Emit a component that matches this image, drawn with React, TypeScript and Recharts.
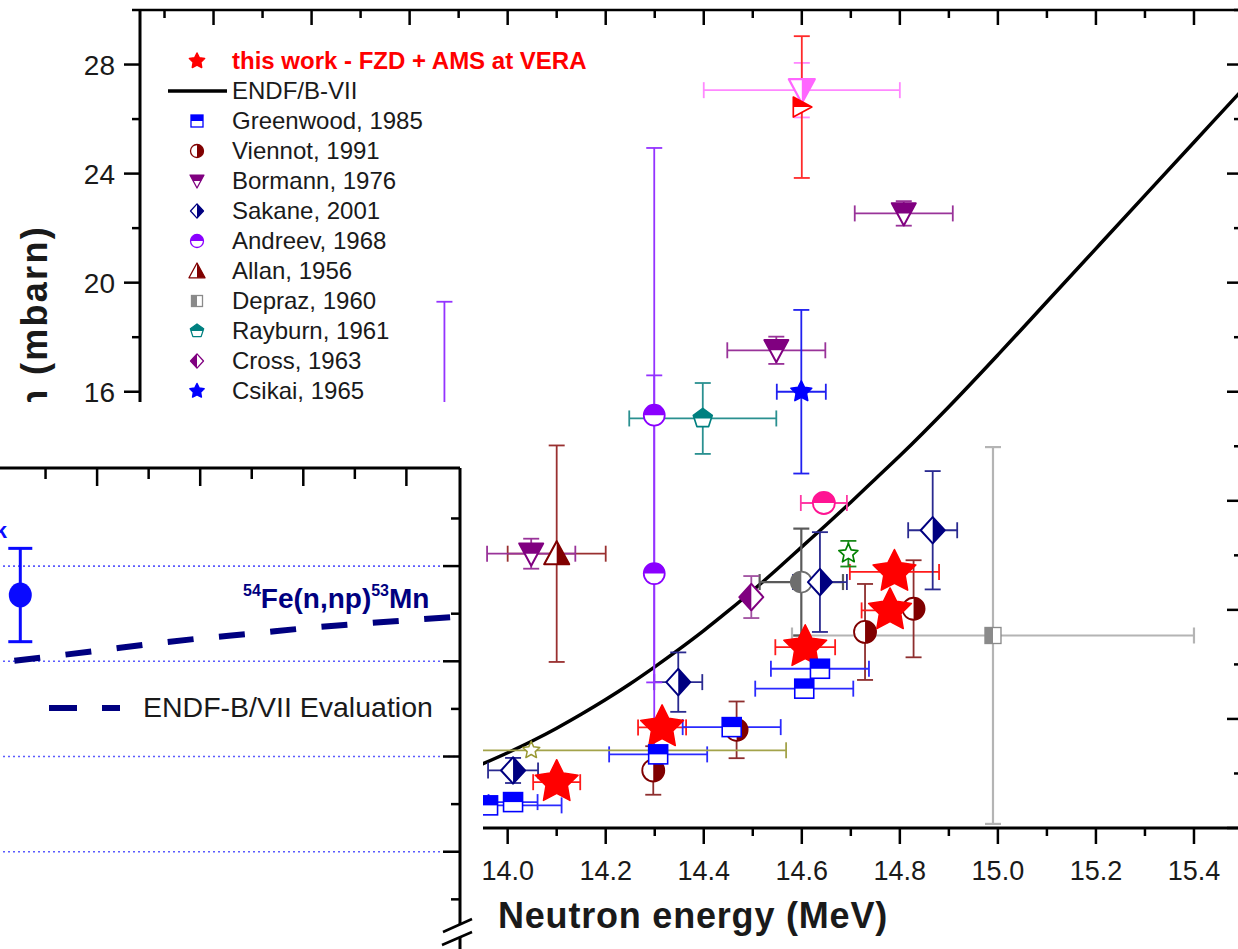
import React from 'react';
import { ComposedChart, Scatter, Line, XAxis, YAxis, ErrorBar, Legend, ReferenceLine } from 'recharts';

const FONT = '"Liberation Sans", Arial, Helvetica, sans-serif';
const INK = '#1a1a1a';

// ---------- main chart axes ----------
const xTicks = [13.3, 13.4, 13.5, 13.6, 13.7, 13.8, 13.9, 14.0, 14.1, 14.2, 14.3, 14.4, 14.5, 14.6, 14.7, 14.8, 14.9, 15.0, 15.1, 15.2, 15.3, 15.4, 15.5];
const yTicks = [0, 2, 4, 6, 8, 10, 12, 14, 16, 18, 20, 22, 24, 26, 28, 30];
const xDomain = [13.25, 15.5];
const yDomain = [0, 30];

// ---------- main chart data ----------
const endfE = [13.9, 13.95, 14.0, 14.05, 14.1, 14.15, 14.2, 14.25, 14.3, 14.35, 14.4, 14.45, 14.5, 14.55, 14.6, 14.65, 14.7, 14.75, 14.8, 14.9, 15.0, 15.1, 15.2, 15.3, 15.4, 15.5];
const endfSigma = [1.98, 2.36, 2.76, 3.19, 3.66, 4.17, 4.71, 5.29, 5.91, 6.56, 7.24, 7.96, 8.71, 9.5, 10.31, 11.12, 11.95, 12.8, 13.65, 15.45, 17.35, 19.3, 21.25, 23.2, 25.15, 27.1];

const thisWorkE = [14.1, 14.315, 14.607, 14.78, 14.789];
const thisWorkS = [1.68, 3.69, 6.63, 7.98, 9.39];
const thisWorkDE = [0.048, 0.049, 0.061, 0.058, 0.091];

const greenwoodE = [13.96, 14.011, 14.307, 14.457, 14.605, 14.637];
const greenwoodS = [0.83, 0.95, 2.7, 3.7, 5.11, 5.84];
const greenwoodDE = [0.15, 0.05, 0.1, 0.1, 0.1, 0.1];

const viennotE = [14.297, 14.467, 14.729, 14.828];
const viennotS = [2.11, 3.6, 7.19, 8.04];
const viennotDS = [0.89, 1.04, 1.76, 1.78];

const bormannE = [14.048, 14.548, 14.808];
const bormannS = [10.06, 17.52, 22.54];
const bormannDE = [0.09, 0.1, 0.1];
const bormannDS = [0.55, 0.5, 0.45];

const sakaneE = [14.011, 14.348, 14.637, 14.867];
const sakaneS = [2.11, 5.35, 9.02, 10.92];
const sakaneDE = [0.051, 0.049, 0.055, 0.05];
const sakaneDS = [0.46, 1.09, 1.83, 2.17];

const andreevE = [13.871, 14.299, 14.299];
const andreevS = [12.0, 15.14, 9.33];
const andreevDS = [7.3, 9.8, 7.27];

const allanE = [14.1];
const allanS = [10.06];
const allanDE = [0.1];
const allanDS = [3.97];

const deprazE = [14.99];
const deprazS = [7.06];
const deprazDE = [0.41];
const deprazDS = [6.91];

const rayburnE = [14.398];
const rayburnS = [15.02];
const rayburnDE = [0.15];
const rayburnDS = [1.3];

const crossE = [14.497];
const crossS = [8.47];
const crossDS = [0.77];

const csikaiE = [14.599];
const csikaiS = [16.0];
const csikaiDE = [0.05];
const csikaiDS = [3.0];

const pinkTriE = [14.6];
const pinkTriS = [27.06];
const pinkTriDE = [0.2];
const pinkTriDS = [1.0];

const redTriE = [14.6];
const redTriS = [26.44];
const redTriDS = [2.6];

const pinkCircE = [14.645];
const pinkCircS = [11.92];
const pinkCircDE = [0.047];

const grayCircE = [14.599];
const grayCircS = [9.02];
const grayCircDE = [0.085];
const grayCircDS = [1.96];

const greenStarE = [14.695];
const greenStarS = [10.06];
const greenStarDS = [0.47];

const oliveStarE = [14.048];
const oliveStarS = [2.85];
const oliveStarDE = [0.52];

// ---------- inset data ----------
const insetXTicks = [12.5, 13, 13.5, 14, 14.5, 15, 15.5, 16];
const insetYTicks = [35, 40, 45, 50, 55, 60, 65, 70, 75];
const insetGrid = [40, 50, 60, 70];
const insetEvalE = [12.0, 12.5, 13.0, 13.5, 14.0, 14.5, 15.0, 15.5, 16.0, 16.52];
const insetEvalS = [59.8, 60.45, 61.1, 61.8, 62.4, 62.9, 63.45, 63.9, 64.3, 64.7];
const insetWorkE = [12.255];
const insetWorkS = [66.96];
const insetWorkDS = [4.9];

type Pt = { x: number; y: number; ex?: number; ey?: number };
const pts = (E: number[], S: number[], dE?: number[], dS?: number[]): Pt[] =>
  E.map((x, i) => ({ x, y: S[i], ex: dE ? dE[i] : undefined, ey: dS ? dS[i] : undefined }));

const endf = pts(endfE, endfSigma);
const insetEval = pts(insetEvalE, insetEvalS);
const insetWork = pts(insetWorkE, insetWorkS, undefined, insetWorkDS);

// ---------- markers ----------
const starPoints = (cx: number, cy: number, ro: number, ri: number) => {
  const p: string[] = [];
  for (let i = 0; i < 10; i++) {
    const r = i % 2 === 0 ? ro : ri;
    const a = -Math.PI / 2 + (i * Math.PI) / 5;
    p.push(`${cx + r * Math.cos(a)},${cy + r * Math.sin(a)}`);
  }
  return p.join(' ');
};
const poly = (arr: number[][]) => arr.map((q) => `${q[0]},${q[1]}`).join(' ');

function Marker({ kind, cx, cy, c, s }: { kind: string; cx: number; cy: number; c: string; s: number }) {
  if (cx == null || cy == null || isNaN(cx) || isNaN(cy)) return <g />;
  const sw = Math.max(1.3, s / 6);
  const W = '#fff';
  switch (kind) {
    case 'star':
      return <polygon points={starPoints(cx, cy, s, s * 0.5)} fill={c} stroke={c} strokeWidth={1.5} strokeLinejoin="round" />;
    case 'starOpen':
      return <polygon points={starPoints(cx, cy, s, s * 0.47)} fill={W} stroke={c} strokeWidth={sw} strokeLinejoin="round" />;
    case 'sqTop':
      return (
        <g>
          <rect x={cx - s} y={cy - s} width={2 * s} height={2 * s} fill={W} stroke={c} strokeWidth={sw} />
          <rect x={cx - s} y={cy - s} width={2 * s} height={s} fill={c} />
        </g>
      );
    case 'sqLeft':
      return (
        <g>
          <rect x={cx - s} y={cy - s} width={2 * s} height={2 * s} fill={W} stroke={c} strokeWidth={sw} />
          <rect x={cx - s} y={cy - s} width={s} height={2 * s} fill={c} />
        </g>
      );
    case 'circRight':
      return (
        <g>
          <circle cx={cx} cy={cy} r={s} fill={W} stroke={c} strokeWidth={sw} />
          <path d={`M${cx},${cy - s} A${s},${s} 0 0 1 ${cx},${cy + s} Z`} fill={c} />
        </g>
      );
    case 'circLeft':
      return (
        <g>
          <circle cx={cx} cy={cy} r={s} fill={W} stroke={c} strokeWidth={sw} />
          <path d={`M${cx},${cy - s} A${s},${s} 0 0 0 ${cx},${cy + s} Z`} fill={c} />
        </g>
      );
    case 'circTop':
      return (
        <g>
          <circle cx={cx} cy={cy} r={s} fill={W} stroke={c} strokeWidth={sw} />
          <path d={`M${cx - s},${cy} A${s},${s} 0 0 1 ${cx + s},${cy} Z`} fill={c} />
        </g>
      );
    case 'circFull':
      return <ellipse cx={cx} cy={cy} rx={s} ry={s * 1.08} fill={c} />;
    case 'triDownTop':
      return (
        <g>
          <polygon points={poly([[cx - s, cy - 0.85 * s], [cx + s, cy - 0.85 * s], [cx, cy + s]])} fill={W} stroke={c} strokeWidth={sw} strokeLinejoin="round" />
          <polygon points={poly([[cx - s, cy - 0.85 * s], [cx + s, cy - 0.85 * s], [cx + 0.54 * s, cy], [cx - 0.54 * s, cy]])} fill={c} />
        </g>
      );
    case 'triDownRight':
      return (
        <g>
          <polygon points={poly([[cx - s, cy - 0.85 * s], [cx + s, cy - 0.85 * s], [cx, cy + s]])} fill={W} stroke={c} strokeWidth={sw} strokeLinejoin="round" />
          <polygon points={poly([[cx, cy - 0.85 * s], [cx + s, cy - 0.85 * s], [cx, cy + s]])} fill={c} />
        </g>
      );
    case 'triUpRight':
      return (
        <g>
          <polygon points={poly([[cx, cy - s], [cx + s, cy + 0.85 * s], [cx - s, cy + 0.85 * s]])} fill={W} stroke={c} strokeWidth={sw} strokeLinejoin="round" />
          <polygon points={poly([[cx, cy - s], [cx + s, cy + 0.85 * s], [cx, cy + 0.85 * s]])} fill={c} />
        </g>
      );
    case 'triRightTop':
      return (
        <g>
          <polygon points={poly([[cx - 0.85 * s, cy - s], [cx + s, cy], [cx - 0.85 * s, cy + s]])} fill={W} stroke={c} strokeWidth={sw} strokeLinejoin="round" />
          <polygon points={poly([[cx - 0.85 * s, cy - s], [cx + s, cy], [cx - 0.85 * s, cy]])} fill={c} />
        </g>
      );
    case 'diaRight':
      return (
        <g>
          <polygon points={poly([[cx, cy - 1.1 * s], [cx + s, cy], [cx, cy + 1.1 * s], [cx - s, cy]])} fill={W} stroke={c} strokeWidth={sw} strokeLinejoin="round" />
          <polygon points={poly([[cx, cy - 1.1 * s], [cx + s, cy], [cx, cy + 1.1 * s]])} fill={c} />
        </g>
      );
    case 'diaLeft':
      return (
        <g>
          <polygon points={poly([[cx, cy - 1.1 * s], [cx + s, cy], [cx, cy + 1.1 * s], [cx - s, cy]])} fill={W} stroke={c} strokeWidth={sw} strokeLinejoin="round" />
          <polygon points={poly([[cx, cy - 1.1 * s], [cx - s, cy], [cx, cy + 1.1 * s]])} fill={c} />
        </g>
      );
    case 'pentTop':
      return (
        <g>
          <polygon
            points={poly([[cx, cy - s], [cx + 0.951 * s, cy - 0.309 * s], [cx + 0.588 * s, cy + 0.809 * s], [cx - 0.588 * s, cy + 0.809 * s], [cx - 0.951 * s, cy - 0.309 * s]])}
            fill={W}
            stroke={c}
            strokeWidth={sw}
            strokeLinejoin="round"
          />
          <polygon points={poly([[cx, cy - s], [cx + 0.951 * s, cy - 0.309 * s], [cx + 0.85 * s, cy], [cx - 0.85 * s, cy], [cx - 0.951 * s, cy - 0.309 * s]])} fill={c} />
        </g>
      );
    default:
      return <circle cx={cx} cy={cy} r={s} fill={c} />;
  }
}

type Series = {
  key: string;
  name: string;
  data: Pt[];
  color: string;
  bar: string;
  kind: string;
  size: number;
  legendSize: number;
  ex: boolean;
  ey: boolean;
  bw?: number;
};

const THIS_WORK = 'this work - FZD + AMS at VERA';
const ENDF_NAME = 'ENDF/B-VII';

const series: Series[] = [
  { key: 'depraz', name: 'Depraz, 1960', data: pts(deprazE, deprazS, deprazDE, deprazDS), color: '#8a8a8a', bar: '#b4b4b4', kind: 'sqLeft', size: 8, legendSize: 5.5, ex: true, ey: true, bw: 2.2 },
  { key: 'grayc', name: 'gray', data: pts(grayCircE, grayCircS, grayCircDE, grayCircDS), color: '#6e6e6e', bar: '#5a5a5a', kind: 'circLeft', size: 10.5, legendSize: 6, ex: true, ey: true, bw: 2.2 },
  { key: 'viennot', name: 'Viennot, 1991', data: pts(viennotE, viennotS, undefined, viennotDS), color: '#800000', bar: '#8e2e2e', kind: 'circRight', size: 11, legendSize: 6.5, ex: false, ey: true },
  { key: 'thiswork', name: THIS_WORK, data: pts(thisWorkE, thisWorkS, thisWorkDE), color: '#ff0000', bar: '#ff1a1a', kind: 'star', size: 22.5, legendSize: 8, ex: true, ey: false },
  { key: 'greenwood', name: 'Greenwood, 1985', data: pts(greenwoodE, greenwoodS, greenwoodDE), color: '#0000ff', bar: '#2a2aff', kind: 'sqTop', size: 9.5, legendSize: 6, ex: true, ey: false },
  { key: 'sakane', name: 'Sakane, 2001', data: pts(sakaneE, sakaneS, sakaneDE, sakaneDS), color: '#000080', bar: '#2a2a90', kind: 'diaRight', size: 12, legendSize: 6.5, ex: true, ey: true },
  { key: 'andreev', name: 'Andreev, 1968', data: pts(andreevE, andreevS, undefined, andreevDS), color: '#8a00ff', bar: '#9433ff', kind: 'circTop', size: 10.5, legendSize: 6.5, ex: false, ey: true },
  { key: 'allan', name: 'Allan, 1956', data: pts(allanE, allanS, allanDE, allanDS), color: '#800000', bar: '#993030', kind: 'triUpRight', size: 12.5, legendSize: 8, ex: true, ey: true },
  { key: 'bormann', name: 'Bormann, 1976', data: pts(bormannE, bormannS, bormannDE, bormannDS), color: '#800080', bar: '#993399', kind: 'triDownTop', size: 12, legendSize: 7, ex: true, ey: true },
  { key: 'rayburn', name: 'Rayburn, 1961', data: pts(rayburnE, rayburnS, rayburnDE, rayburnDS), color: '#008080', bar: '#2a9090', kind: 'pentTop', size: 10, legendSize: 7, ex: true, ey: true },
  { key: 'cross', name: 'Cross, 1963', data: pts(crossE, crossS, undefined, crossDS), color: '#800080', bar: '#a050a0', kind: 'diaLeft', size: 12, legendSize: 6.5, ex: false, ey: true },
  { key: 'csikai', name: 'Csikai, 1965', data: pts(csikaiE, csikaiS, csikaiDE, csikaiDS), color: '#0000ff', bar: '#2020f0', kind: 'star', size: 11, legendSize: 7.5, ex: true, ey: true },
  { key: 'pinktri', name: 'pink', data: pts(pinkTriE, pinkTriS, pinkTriDE, pinkTriDS), color: '#ff66ff', bar: '#ff88ff', kind: 'triDownRight', size: 13, legendSize: 7, ex: true, ey: true },
  { key: 'redtri', name: 'redtri', data: pts(redTriE, redTriS, undefined, redTriDS), color: '#ff0000', bar: '#ff2a2a', kind: 'triRightTop', size: 10, legendSize: 7, ex: false, ey: true },
  { key: 'pinkc', name: 'pinkc', data: pts(pinkCircE, pinkCircS, pinkCircDE), color: '#ff1493', bar: '#ff3aa5', kind: 'circTop', size: 11, legendSize: 6.5, ex: true, ey: false },
  { key: 'greens', name: 'greens', data: pts(greenStarE, greenStarS, undefined, greenStarDS), color: '#008000', bar: '#1a8a1a', kind: 'starOpen', size: 10, legendSize: 7, ex: false, ey: true },
  { key: 'olives', name: 'olives', data: pts(oliveStarE, oliveStarS, oliveStarDE), color: '#999933', bar: '#a3a34a', kind: 'starOpen', size: 9, legendSize: 7, ex: true, ey: false },
];

const legendOrder = [THIS_WORK, ENDF_NAME, 'Greenwood, 1985', 'Viennot, 1991', 'Bormann, 1976', 'Sakane, 2001', 'Andreev, 1968', 'Allan, 1956', 'Depraz, 1960', 'Rayburn, 1961', 'Cross, 1963', 'Csikai, 1965'];
const byName: Record<string, Series> = {};
series.forEach((s) => (byName[s.name] = s));

// ---------- axis helpers ----------
const isMult = (v: number, step: number) => Math.abs(v / step - Math.round(v / step)) < 1e-6;

const BottomTick = (p: any) => {
  const { x, y, payload } = p;
  const v = payload.value;
  const major = isMult(v, 0.2);
  return (
    <g>
      <line x1={x} x2={x} y1={y} y2={y + (major ? 16 : 8)} stroke="#000" strokeWidth={2.5} />
      {major && (
        <text x={x} y={y + 51.5} textAnchor="middle" fontSize={27} fontFamily={FONT} fill={INK}>
          {v.toFixed(1)}
        </text>
      )}
    </g>
  );
};
const TopTick = (p: any) => {
  const { x, y, payload } = p;
  const major = isMult(payload.value, 0.2);
  return <line x1={x} x2={x} y1={y} y2={y + (major ? 15 : 8)} stroke="#000" strokeWidth={2.5} />;
};
const LeftTick = (p: any) => {
  const { x, y, payload } = p;
  const v = payload.value;
  const major = isMult(v, 4);
  return (
    <g>
      <line x1={x - (major ? 16 : 8)} x2={x} y1={y} y2={y} stroke="#000" strokeWidth={2.5} />
      {major && (
        <text x={x - 25} y={y} dy={10} textAnchor="end" fontSize={28} fontFamily={FONT} fill={INK}>
          {v}
        </text>
      )}
    </g>
  );
};
const RightTick = (p: any) => {
  const { x, y, payload } = p;
  const major = isMult(payload.value, 4);
  return <line x1={x - (major ? 16 : 9)} x2={x} y1={y} y2={y} stroke="#000" strokeWidth={2.5} />;
};

const XLabel = (p: any) => {
  const vb = p.viewBox || { x: 140, y: 828, width: 1103, height: 121 };
  return (
    <text x={vb.x + vb.width / 2 + 1.5} y={vb.y + 100} textAnchor="middle" fontSize={36} fontWeight="bold" letterSpacing={0.8} fontFamily={FONT} fill={INK}>
      Neutron energy (MeV)
    </text>
  );
};
const YLabel = (p: any) => {
  const vb = p.viewBox || { x: 0, y: 10, width: 140, height: 818 };
  const tx = vb.x + 47;
  const ty = vb.y + 215;
  return (
    <text x={tx} y={ty} transform={`rotate(-90, ${tx}, ${ty})`} textAnchor="end" fontSize={36} fontWeight="bold" letterSpacing={2.3} fontFamily={FONT} fill={INK}>
      Cross section (mbarn)
    </text>
  );
};

const MainLegend = () => (
  <div style={{ fontFamily: FONT, color: INK }}>
    {legendOrder.map((name) => {
      const s = byName[name];
      const bold = name === THIS_WORK;
      return (
        <div key={name} style={{ display: 'flex', alignItems: 'center', height: 30 }}>
          <svg width={70} height={30} style={{ display: 'block', flex: 'none' }}>
            {name === ENDF_NAME ? (
              <line x1={6} x2={65} y1={15} y2={15} stroke="#000" strokeWidth={3.5} />
            ) : (
              <Marker kind={s.kind} cx={35} cy={15} c={s.color} s={s.legendSize} />
            )}
          </svg>
          <span style={{ fontSize: 24, lineHeight: '30px', whiteSpace: 'nowrap', fontWeight: bold ? 'bold' : 'normal', color: bold ? '#ff0000' : INK }}>{name}</span>
        </div>
      );
    })}
  </div>
);

// ---------- inset helpers ----------
const InsetTopTick = (p: any) => {
  const { x, y, payload } = p;
  const major = isMult(payload.value, 1);
  return <line x1={x} x2={x} y1={y} y2={y + (major ? 18 : 11)} stroke="#000" strokeWidth={2.5} />;
};
const InsetRightTick = (p: any) => {
  const { x, y, payload } = p;
  const major = isMult(payload.value, 10);
  return <line x1={x - (major ? 17 : 9)} x2={x} y1={y} y2={y} stroke="#000" strokeWidth={2.5} />;
};
const InsetNotes = (p: any) => {
  const vb = p.viewBox || { x: 4, y: 65 };
  const top = vb.y + (vb.height || 0);
  return (
    <g fontFamily={FONT} fontWeight="bold">
      <text x={vb.x + 13} y={top + 70} textAnchor="end" fill="#0a0aff" fontSize={22}>
        this work
      </text>
      <text x={vb.x + 249} y={top + 140} fill="#000080" fontSize={28}>
        <tspan fontSize={16} dy={-12}>54</tspan>
        <tspan dy={12}>Fe(n,np)</tspan>
        <tspan fontSize={16} dy={-12}>53</tspan>
        <tspan dy={12}>Mn</tspan>
      </text>
    </g>
  );
};
const AxisBreak = (p: any) => {
  const vb = p.viewBox || { x: 470, y: 66 };
  const bx = vb.x;
  const by = vb.y;
  return (
    <g>
      <polygon points={poly([[bx - 17, by + 464], [bx + 12, by + 451], [bx + 12, by + 464], [bx - 18, by + 477]])} fill="#fff" />
      <line x1={bx - 17} y1={by + 464} x2={bx + 12} y2={by + 451} stroke="#000" strokeWidth={2.5} />
      <line x1={bx - 18} y1={by + 477} x2={bx + 12} y2={by + 464} stroke="#000" strokeWidth={2.5} />
    </g>
  );
};
const InsetLegend = () => (
  <svg width={420} height={40} style={{ display: 'block' }}>
    <line x1={0} x2={71} y1={20} y2={20} stroke="#000080" strokeWidth={6} strokeDasharray="28 25" />
    <text x={94} y={29} fontFamily={FONT} fontSize={28.5} fill={INK}>
      ENDF-B/VII Evaluation
    </text>
  </svg>
);

function Inset() {
  return (
    <div style={{ position: 'absolute', left: 0, top: 402, width: 483, height: 547, background: '#fff', overflow: 'hidden' }}>
      <div style={{ position: 'absolute', left: -10, top: 0 }}>
        <ComposedChart width={493} height={564} margin={{ top: 65, right: 22, bottom: 0, left: 4 }}>
          <XAxis
            xAxisId="t"
            orientation="top"
            type="number"
            dataKey="x"
            domain={[12, 16.52]}
            ticks={insetXTicks}
            interval={0}
            allowDataOverflow
            height={1}
            tickSize={0}
            tickMargin={0}
            tickLine={false}
            axisLine={{ stroke: '#000', strokeWidth: 3 }}
            tick={InsetTopTick}
            label={{ content: InsetNotes }}
          />
          <YAxis
            yAxisId="r"
            orientation="right"
            type="number"
            dataKey="y"
            domain={[28, 80.3]}
            ticks={insetYTicks}
            interval={0}
            allowDataOverflow
            width={1}
            tickSize={0}
            tickMargin={0}
            tickLine={false}
            axisLine={{ stroke: '#000', strokeWidth: 3 }}
            tick={InsetRightTick}
            label={{ content: AxisBreak }}
          />
          {insetGrid.map((v) => (
            <ReferenceLine key={v} xAxisId="t" yAxisId="r" y={v} stroke="#5b5bff" strokeWidth={1.6} strokeDasharray="2 3" />
          ))}
          <Line
            xAxisId="t"
            yAxisId="r"
            data={insetEval}
            dataKey="y"
            type="monotone"
            stroke="#000080"
            strokeWidth={6}
            strokeDasharray="26 25.5"
            strokeDashoffset={31}
            dot={false}
            activeDot={false}
            isAnimationActive={false}
          />
          <Scatter
            xAxisId="t"
            yAxisId="r"
            data={insetWork}
            dataKey="y"
            fill="#0a0aff"
            isAnimationActive={false}
            shape={(p: any) => <Marker kind="circFull" cx={p.cx} cy={p.cy} c="#0a0aff" s={11.5} />}
          >
            <ErrorBar dataKey="ey" direction="y" width={12} stroke="#0a0aff" strokeWidth={3} />
          </Scatter>
          <Legend content={InsetLegend} layout="vertical" align="center" verticalAlign="middle" wrapperStyle={{ left: 59, top: 286, width: 420 }} />
        </ComposedChart>
      </div>
    </div>
  );
}

export default function App() {
  return (
    <div style={{ position: 'fixed', left: 0, top: 0, width: 1238, height: 949, overflow: 'hidden', background: '#fff' }}>
      <div style={{ position: 'absolute', left: 0, top: 0 }}>
        <ComposedChart width={1250} height={949} margin={{ top: 9, right: 6, bottom: 0, left: 0 }}>
          <XAxis
            xAxisId="b"
            type="number"
            dataKey="x"
            domain={xDomain}
            ticks={xTicks}
            interval={0}
            allowDataOverflow
            height={121}
            tickSize={0}
            tickMargin={0}
            tickLine={false}
            axisLine={{ stroke: '#000', strokeWidth: 3 }}
            tick={BottomTick}
            label={{ content: XLabel }}
          />
          <XAxis
            xAxisId="t"
            orientation="top"
            type="number"
            dataKey="x"
            domain={xDomain}
            ticks={xTicks}
            interval={0}
            allowDataOverflow
            height={1}
            tickSize={0}
            tickMargin={0}
            tickLine={false}
            axisLine={{ stroke: '#000', strokeWidth: 2.5 }}
            tick={TopTick}
          />
          <YAxis
            yAxisId="l"
            type="number"
            dataKey="y"
            domain={yDomain}
            ticks={yTicks}
            interval={0}
            allowDataOverflow
            width={140}
            tickSize={0}
            tickMargin={0}
            tickLine={false}
            axisLine={{ stroke: '#000', strokeWidth: 3 }}
            tick={LeftTick}
            label={{ content: YLabel }}
          />
          <YAxis
            yAxisId="r"
            orientation="right"
            type="number"
            dataKey="y"
            domain={yDomain}
            ticks={yTicks}
            interval={0}
            allowDataOverflow
            width={1}
            tickSize={0}
            tickMargin={0}
            tickLine={false}
            axisLine={{ stroke: '#000', strokeWidth: 3 }}
            tick={RightTick}
          />
          <Line xAxisId="b" yAxisId="l" data={endf} dataKey="y" type="monotone" stroke="#000" strokeWidth={3.5} dot={false} activeDot={false} isAnimationActive={false} />
          {series.map((s) => (
            <Scatter
              key={s.key}
              name={s.name}
              xAxisId="b"
              yAxisId="l"
              data={s.data}
              dataKey="y"
              fill={s.color}
              isAnimationActive={false}
              shape={(p: any) => <Marker kind={s.kind} cx={p.cx} cy={p.cy} c={s.color} s={s.size} />}
            >
              {s.ex && <ErrorBar dataKey="ex" direction="x" width={8} stroke={s.bar} strokeWidth={s.bw || 1.8} />}
              {s.ey && <ErrorBar dataKey="ey" direction="y" width={8} stroke={s.bar} strokeWidth={s.bw || 1.8} />}
            </Scatter>
          ))}
          <Legend content={MainLegend} layout="vertical" align="center" verticalAlign="middle" wrapperStyle={{ left: 162, top: 46, width: 460 }} />
        </ComposedChart>
      </div>
      <Inset />
    </div>
  );
}
